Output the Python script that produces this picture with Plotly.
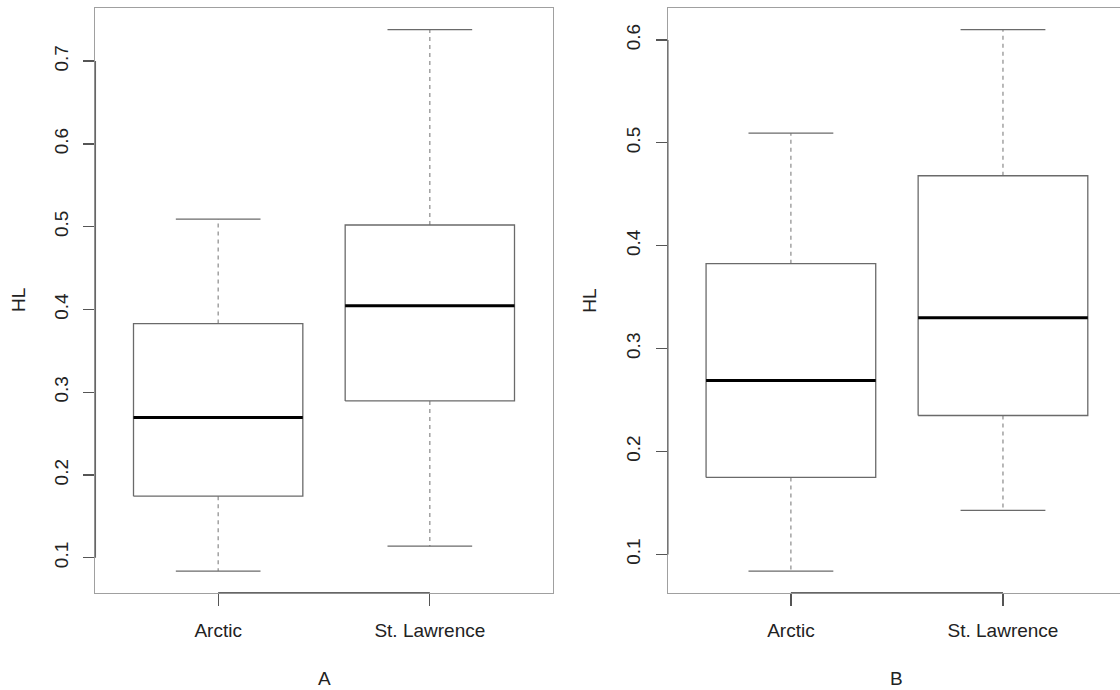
import plotly.graph_objects as go

# ---- data ----
categories = ["Arctic", "St. Lawrence"]

# Panel A
a_lower = [0.084, 0.114]
a_q1 = [0.1745, 0.2895]
a_median = [0.2694, 0.4045]
a_q3 = [0.383, 0.502]
a_upper = [0.509, 0.738]

# Panel B
b_lower = [0.0838, 0.1427]
b_q1 = [0.1748, 0.235]
b_median = [0.2689, 0.330]
b_q3 = [0.3825, 0.468]
b_upper = [0.5094, 0.610]

a_ticks = [0.1, 0.2, 0.3, 0.4, 0.5, 0.6, 0.7]
b_ticks = [0.1, 0.2, 0.3, 0.4, 0.5, 0.6]

panel_labels = ["A", "B"]
y_title = "HL"

FONT = "Liberation Sans, Arial, Helvetica, sans-serif"
BOXW = 0.4  # half width of box (boxwex 0.8)

fig = go.Figure()


def add_panel(xref, yref, lower, q1, med, q3, upper):
    for i, _ in enumerate(categories):
        c = i + 1
        # dashed whiskers
        fig.add_trace(go.Scatter(
            x=[c, c, None, c, c], y=[q3[i], upper[i], None, q1[i], lower[i]],
            mode="lines", line=dict(color="#8a8a8a", width=1.2, dash="4px,4px"),
            xaxis=xref, yaxis=yref, showlegend=False, hoverinfo="skip"))
        # caps
        fig.add_trace(go.Scatter(
            x=[c - BOXW / 2, c + BOXW / 2, None, c - BOXW / 2, c + BOXW / 2],
            y=[upper[i], upper[i], None, lower[i], lower[i]],
            mode="lines", line=dict(color="#6a6a6a", width=1.3),
            xaxis=xref, yaxis=yref, showlegend=False, hoverinfo="skip"))
        # box
        fig.add_trace(go.Scatter(
            x=[c - BOXW, c + BOXW, c + BOXW, c - BOXW, c - BOXW],
            y=[q1[i], q1[i], q3[i], q3[i], q1[i]],
            mode="lines", line=dict(color="#6a6a6a", width=1.3),
            xaxis=xref, yaxis=yref, showlegend=False, hoverinfo="skip"))
        # median
        fig.add_trace(go.Scatter(
            x=[c - BOXW, c + BOXW], y=[med[i], med[i]],
            mode="lines", line=dict(color="#000000", width=3),
            xaxis=xref, yaxis=yref, showlegend=False, hoverinfo="skip"))


add_panel("x", "y", a_lower, a_q1, a_median, a_q3, a_upper)
add_panel("x2", "y2", b_lower, b_q1, b_median, b_q3, b_upper)


def yrange(lower, upper):
    lo, hi = min(lower), max(upper)
    pad = (hi - lo) * 0.04
    return [lo - pad, hi + pad]


W, H = 1120, 690
ydom = [1 - 592.7 / H, 1 - 8 / H]
xdomA = [95.4 / W, 552.6 / W]
xdomB = [667.9 / W, 1.0]
n = len(categories)
xr_lo = 0.5 - 0.04 * n
xr_hi_A = n + 0.5 + 0.04 * n
# panel B is cropped on the right in the reference
xr_hi_B = n + (W - 1002.9) / 212.2

tickfont = dict(family=FONT, size=19, color="#222222")

common_x = dict(showgrid=False, zeroline=False, showline=True, linecolor="#a0a0a0",
                linewidth=1.3, mirror=True, ticks="outside", ticklen=12,
                tickcolor="#555555", tickwidth=1.3, tickfont=tickfont,
                tickvals=list(range(1, n + 1)), ticktext=categories,
                ticklabelstandoff=8, fixedrange=True)
common_y = dict(showgrid=False, zeroline=False, showline=True, linecolor="#a0a0a0",
                linewidth=1.3, ticks="outside", ticklen=11, tickcolor="#555555",
                tickwidth=1.3, tickfont=tickfont, tickangle=-90,
                ticklabelstandoff=8, fixedrange=True)

fig.update_layout(
    width=W, height=H,
    margin=dict(l=0, r=0, t=0, b=0),
    paper_bgcolor="white", plot_bgcolor="white",
    showlegend=False,
    xaxis=dict(domain=xdomA, range=[xr_lo, xr_hi_A], anchor="y", **common_x),
    yaxis=dict(domain=ydom, range=yrange(a_lower, a_upper), anchor="x",
               tickvals=a_ticks, ticktext=[str(t) for t in a_ticks],
               mirror=True, **common_y),
    xaxis2=dict(domain=xdomB, range=[xr_lo, xr_hi_B], anchor="y2", **common_x),
    yaxis2=dict(domain=ydom, range=yrange(b_lower, b_upper), anchor="x2",
                tickvals=b_ticks, ticktext=[str(t) for t in b_ticks],
                mirror=False, **common_y),
)

# R-style axis lines (darker) spanning first to last tick
for xr, yr, ticks in (("x", "y", a_ticks), ("x2", "y2", b_ticks)):
    fig.add_shape(type="line", xref=xr + " domain", yref=yr, x0=0, x1=0,
                  y0=ticks[0], y1=ticks[-1], line=dict(color="#666666", width=1.3))
    fig.add_shape(type="line", xref=xr, yref=yr + " domain", x0=1, x1=n,
                  y0=0, y1=0, line=dict(color="#666666", width=1.3))

ymid = (ydom[0] + ydom[1]) / 2
titlefont = dict(family=FONT, size=19, color="#222222")
fig.add_annotation(text=y_title, x=18.6 / W, y=ymid, xref="paper", yref="paper",
                   textangle=-90, showarrow=False, font=titlefont,
                   xanchor="center", yanchor="middle")
fig.add_annotation(text=y_title, x=589.3 / W, y=ymid, xref="paper", yref="paper",
                   textangle=-90, showarrow=False, font=titlefont,
                   xanchor="center", yanchor="middle")
fig.add_annotation(text=panel_labels[0], x=324 / W, y=1 - 678 / H, xref="paper",
                   yref="paper", showarrow=False, font=titlefont,
                   xanchor="center", yanchor="middle")
fig.add_annotation(text=panel_labels[1], x=896 / W, y=1 - 678 / H, xref="paper",
                   yref="paper", showarrow=False, font=titlefont,
                   xanchor="center", yanchor="middle")

fig.write_html("out.html",
               config={"displayModeBar": False, "staticPlot": True},
               post_script="document.body.style.margin='0';"
                           "document.body.style.overflow='hidden';")
